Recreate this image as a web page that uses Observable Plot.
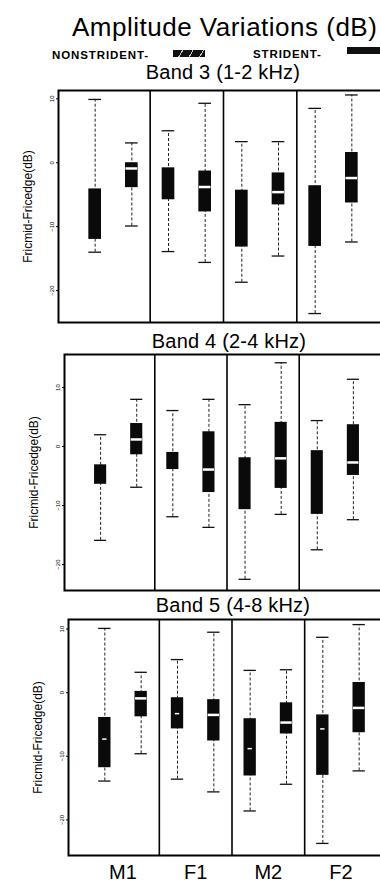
<!DOCTYPE html>
<html><head><meta charset="utf-8">
<script src="https://cdn.jsdelivr.net/npm/d3@7"></script>
<script src="https://cdn.jsdelivr.net/npm/@observablehq/plot@0.6"></script>
<style>
html,body{margin:0;padding:0;background:#fff;overflow:hidden;}
#page{position:relative;width:380px;height:884px;overflow:hidden;font-family:"Liberation Sans",Arial,sans-serif;color:#000;}
.abs{position:absolute;white-space:nowrap;line-height:1;}
.panel{position:absolute;left:0;max-width:none !important;}
</style></head><body><div id="page"></div>
<script>
// ---- data (dB), order: M1 non, M1 str, F1 non, F1 str, M2 non, M2 str, F2 non, F2 str
const speakers = ["M1", "F1", "M2", "F2"];
const groups = ["NONSTRIDENT", "STRIDENT"];
const bandTitles = ["Band 3 (1-2 kHz)", "Band 4 (2-4 kHz)", "Band 5 (4-8 kHz)"];
const yTicks = [10, 0, -10, -20];
const yLabel = "Fricmid-Fricedge(dB)";
const title = "Amplitude Variations (dB)";

const band3Hi  = [9.9, 3.1, 5.0, 9.3, 3.3, 3.3, 8.5, 10.6];
const band3Q3  = [-4.1, 0.0, -0.8, -1.3, -4.3, -1.6, -3.6, 1.6];
const band3Med = [null, -0.9, null, -3.8, null, -4.6, null, -2.4];
const band3Q1  = [-12.0, -3.9, -5.8, -7.7, -13.2, -6.6, -13.1, -6.3];
const band3Lo  = [-14.0, -9.9, -13.9, -15.6, -18.7, -14.6, -23.6, -12.4];

const band4Hi  = [2.0, 8.0, 6.1, 8.0, 7.1, 14.2, 4.4, 11.4];
const band4Q3  = [-3.1, 3.9, -1.0, 2.5, -1.9, 4.1, -0.7, 3.7];
const band4Med = [null, 1.2, null, -3.9, null, -2.0, null, -2.7];
const band4Q1  = [-6.4, -1.4, -3.9, -7.8, -10.7, -7.1, -11.5, -4.9];
const band4Lo  = [-15.9, -6.9, -11.9, -13.7, -22.5, -11.5, -17.5, -12.4];

const band5Hi  = [10.1, 3.2, 5.2, 9.5, 3.5, 3.6, 8.7, 10.7];
const band5Q3  = [-3.9, 0.2, -0.8, -1.1, -4.1, -1.6, -3.5, 1.6];
const band5Med = [-7.3, -0.9, -3.3, -3.5, -8.8, -4.7, -5.7, -2.4];
const band5Q1  = [-11.8, -3.8, -5.7, -7.6, -13.1, -6.5, -13.0, -6.3];
const band5Lo  = [-13.9, -9.6, -13.6, -15.6, -18.6, -14.4, -23.7, -12.3];

const bandData = [
  [band3Lo, band3Q1, band3Med, band3Q3, band3Hi],
  [band4Lo, band4Q1, band4Med, band4Q3, band4Hi],
  [band5Lo, band5Q1, band5Med, band5Q3, band5Hi]
];

// ---- layout (positions only)
const layout = [
  {top: 88,  ml: 58, inner: 330, mb: 2,  frameH: 232, domain: [-25, 11.3],   titleX: 223, titleY: 79},
  {top: 352, ml: 64, inner: 325, mb: 2,  frameH: 236, domain: [-24.4, 15.6], titleX: 229, titleY: 348},
  {top: 617, ml: 68, inner: 327, mb: 30, frameH: 236, domain: [-25.6, 11.5], titleX: 233, titleY: 612}
];

const page = document.getElementById("page");
function addText(txt, css) {
  const d = document.createElement("div");
  d.className = "abs";
  d.textContent = txt;
  Object.assign(d.style, css);
  page.appendChild(d);
  return d;
}
// title (baseline ~36)
addText(title, {left: "72px", top: "14px", fontSize: "26px", letterSpacing: "0.5px"});
// legend (baseline ~59)
addText(groups[0] + "-", {left: "52px", top: "50px", fontSize: "11.5px", fontWeight: "bold", letterSpacing: "0.9px"});
const sw1 = document.createElement("div");
Object.assign(sw1.style, {position: "absolute", left: "173px", top: "50px", width: "32px", height: "7px",
  background: "repeating-linear-gradient(120deg,#111 0 8px,#c8c8c8 8px 9px)"});
page.appendChild(sw1);
addText(groups[1] + "-", {left: "253px", top: "49px", fontSize: "11.5px", fontWeight: "bold", letterSpacing: "0.9px"});
const sw2 = document.createElement("div");
Object.assign(sw2.style, {position: "absolute", left: "347px", top: "47px", width: "40px", height: "7px", background: "#111"});
page.appendChild(sw2);

layout.forEach((L, b) => {
  const [lo, q1, med, q3, hi] = bandData[b];
  const rows = speakers.flatMap((s, i) => groups.map((g, j) => {
    const k = i * 2 + j;
    return {speaker: s, group: g, pos: k + 1, lo: lo[k], q1: q1[k], med: med[k], q3: q3[k], hi: hi[k]};
  }));
  const dividers = speakers.slice(1).map((s, i) => i * 2 + 2.5);
  const x1 = d => d.pos - 0.5, x2 = d => d.pos + 0.5;
  const last = b === layout.length - 1;
  const chart = Plot.plot({
    width: L.ml + L.inner + 6,
    height: 2 + L.frameH + L.mb,
    marginLeft: L.ml, marginRight: 6, marginTop: 2, marginBottom: L.mb,
    x: {domain: [0, 9], axis: null},
    y: {domain: L.domain, axis: null},
    style: {fontFamily: "'Liberation Sans', Arial, sans-serif", background: "transparent", color: "#000", overflow: "visible", maxWidth: "none"},
    marks: [
      Plot.ruleX(rows, {x: "pos", y1: "lo", y2: "hi", stroke: "#222", strokeWidth: 1, strokeDasharray: "3,2"}),
      Plot.ruleY(rows, {x1, x2, y: "hi", insetLeft: 12, insetRight: 12, stroke: "#111", strokeWidth: 1.3}),
      Plot.ruleY(rows, {x1, x2, y: "lo", insetLeft: 12, insetRight: 12, stroke: "#111", strokeWidth: 1.3}),
      Plot.rect(rows, {x1, x2, y1: "q1", y2: "q3", insetLeft: 12, insetRight: 12, fill: "#0a0a0a"}),
      Plot.ruleY(rows.filter(d => d.med != null && d.group === "STRIDENT"),
        {x1, x2, y: "med", insetLeft: 12.5, insetRight: 12.5, stroke: "#fff", strokeWidth: 2.5}),
      Plot.ruleY(rows.filter(d => d.med != null && d.group === "NONSTRIDENT"),
        {x1, x2, y: "med", insetLeft: 16, insetRight: 16, stroke: "#fff", strokeWidth: 1.5}),
      Plot.ruleX(dividers, {stroke: "#000", strokeWidth: 1.6}),
      Plot.frame({stroke: "#000", strokeWidth: 2}),
      Plot.axisY({ticks: yTicks, tickRotate: -90, fontSize: 6, tickSize: 2, tickPadding: 3, label: null}),
      Plot.axisY({ticks: [], tickSize: 0, label: yLabel, labelAnchor: "center", labelArrow: "none", labelOffset: 35, fontSize: 12}),
      last ? Plot.axisX({ticks: speakers.map((s, i) => i * 2 + 1.5), tickFormat: d => speakers[(d - 1.5) / 2],
        tickSize: 0, tickPadding: 9, fontSize: 20, label: null}) : null
    ]
  });
  chart.classList.add("panel");
  chart.style.top = L.top + "px";
  chart.style.maxWidth = "none";
  page.appendChild(chart);
  addText(bandTitles[b], {left: (L.titleX - 150) + "px", width: "300px", textAlign: "center",
    top: (L.titleY - 17) + "px", fontSize: "20px", letterSpacing: "0.2px"});
});
</script></body></html>
